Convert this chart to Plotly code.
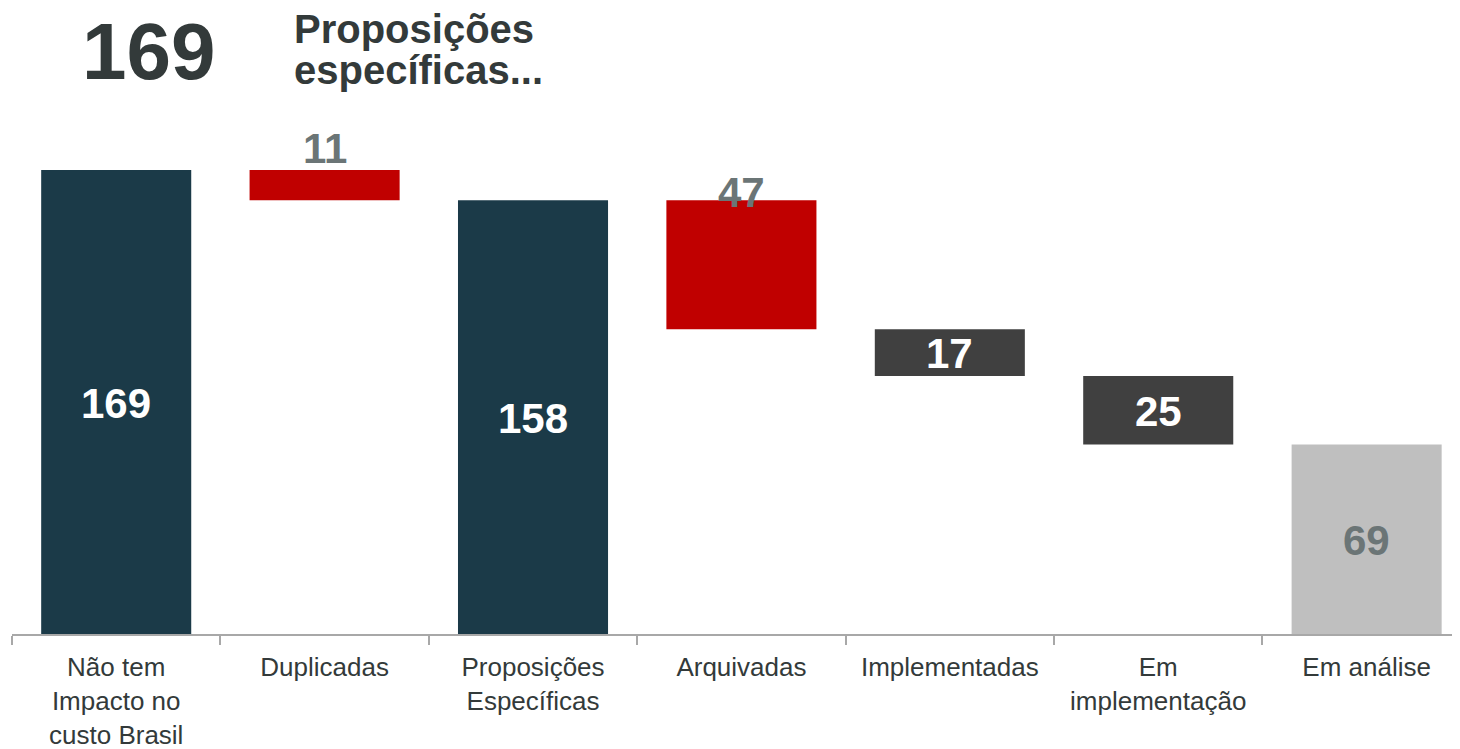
import plotly.graph_objects as go

categories = ["Não tem<br>Impacto no<br>custo Brasil", "Duplicadas", "Proposições<br>Específicas",
              "Arquivadas", "Implementadas", "Em<br>implementação", "Em análise"]
values = [169, 11, 158, 47, 17, 25, 69]
kinds = ["total", "down", "total", "down", "down", "down", "total"]
bar_colors = ["#1b3a48", "#c00000", "#1b3a48", "#c00000", "#404040", "#404040", "#bfbfbf"]
label_colors = ["#ffffff", "#6b7576", "#ffffff", "#6b7576", "#ffffff", "#ffffff", "#6b7576"]
label_pos = ["inside", "above", "inside", "edge", "inside", "inside", "inside"]
headline_number = "169"
headline_text = ["Proposições", "específicas..."]

# compute bases for the waterfall
bases = []
level = 0
for v, k in zip(values, kinds):
    if k == "total":
        bases.append(0)
        level = v
    else:
        level = level - v
        bases.append(level)

fig = go.Figure()
fig.add_trace(go.Bar(
    x=categories, y=values, base=bases,
    marker=dict(color=bar_colors, line=dict(width=0)),
    width=0.72, hoverinfo="skip", showlegend=False,
))

font_fam = "Arial, Liberation Sans, sans-serif"
PLOT_H = 626  # plot area height in px (page offset of 8px compensated)


def py_to_paper(py):
    return 1 - (py - 8) / PLOT_H


def px_to_paper(px):
    return (px - 12) / 1448


annotations = []
for cat, v, b, c, pos in zip(categories, values, bases, label_colors, label_pos):
    txt = f"<b>{v}</b>"
    if pos == "inside":
        annotations.append(dict(x=cat, y=b + v / 2, text=txt, showarrow=False,
                                xanchor="center", yanchor="middle", yshift=-1,
                                font=dict(family=font_fam, size=42, color=c)))
    elif pos == "above":
        annotations.append(dict(x=cat, y=b + v, text=txt, showarrow=False,
                                xanchor="center", yanchor="bottom", yshift=-4,
                                font=dict(family=font_fam, size=42, color=c)))
    else:
        annotations.append(dict(x=cat, y=b + v, text=txt, showarrow=False,
                                xanchor="center", yanchor="middle", yshift=8,
                                font=dict(family=font_fam, size=42, color=c)))

annotations.append(dict(xref="paper", yref="paper", x=px_to_paper(148), y=py_to_paper(51),
                        text=f"<b>{headline_number}</b>", showarrow=False,
                        xanchor="center", yanchor="middle",
                        font=dict(family=font_fam, size=80, color="#333a3a")))
annotations.append(dict(xref="paper", yref="paper", x=px_to_paper(292), y=py_to_paper(29),
                        text=f"<b>{headline_text[0]}</b>", showarrow=False,
                        xanchor="left", yanchor="middle",
                        font=dict(family=font_fam, size=40, color="#333a3a")))
annotations.append(dict(xref="paper", yref="paper", x=px_to_paper(292), y=py_to_paper(70),
                        text=f"<b>{headline_text[1]}</b>", showarrow=False,
                        xanchor="left", yanchor="middle",
                        font=dict(family=font_fam, size=40, color="#333a3a")))

fig.update_layout(
    width=1452, height=741,
    margin=dict(l=4, r=0, t=0, b=115),
    paper_bgcolor="white", plot_bgcolor="white",
    annotations=annotations,
    xaxis=dict(
        type="category", range=[-0.5, 6.448], automargin=False,
        tickson="boundaries", ticks="outside", ticklen=9, tickwidth=2, tickcolor="#a8a8a8",
        showline=True, linecolor="#a8a8a8", linewidth=2,
        showgrid=False, zeroline=False,
        tickfont=dict(family=font_fam, size=26, color="#333a3a"),
        ticklabelstandoff=9,
    ),
    yaxis=dict(range=[0, 228.0], visible=False, showgrid=False, zeroline=False),
)

fig.write_html("out.html")
